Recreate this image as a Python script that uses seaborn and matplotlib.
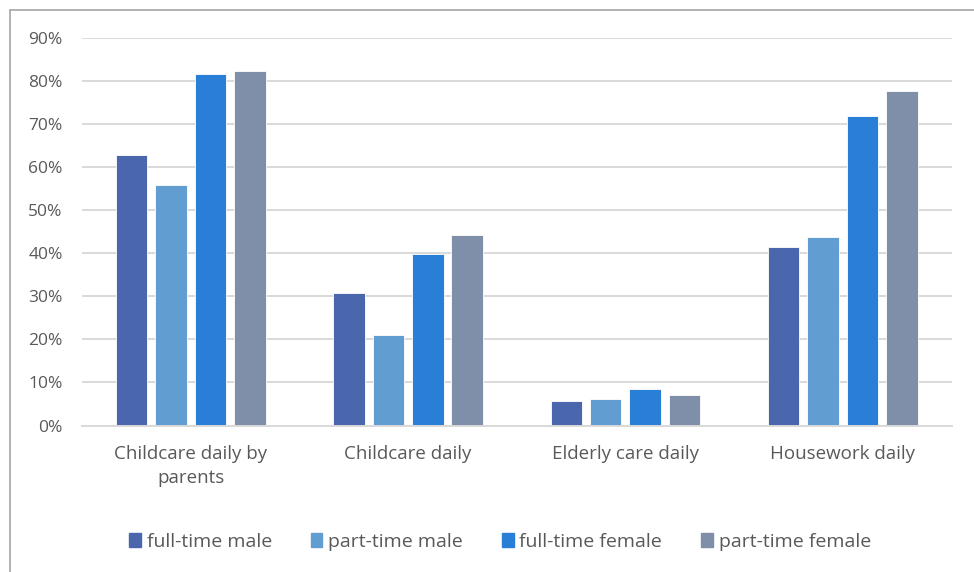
import numpy as np
import pandas as pd
import matplotlib.pyplot as plt
import seaborn as sns
from matplotlib.lines import Line2D

categories = ['Childcare daily by\nparents', 'Childcare daily', 'Elderly care daily', 'Housework daily']
groups = ['full-time male', 'part-time male', 'full-time female', 'part-time female']
ft_male = [62.7, 30.7, 5.6, 41.5]
pt_male = [55.8, 21.0, 6.1, 43.8]
ft_female = [81.5, 39.9, 8.5, 71.8]
pt_female = [82.3, 44.1, 7.1, 77.7]
colors = ['#4A66AC', '#629DD1', '#297FD5', '#7F8FA9']

df = pd.DataFrame({
    'category': categories * 4,
    'group': np.repeat(groups, 4),
    'value': ft_male + pt_male + ft_female + pt_female,
})

sns.set_style('white')
plt.rcParams['font.family'] = ['Open Sans', 'DejaVu Sans']
txt = '#595959'

fig = plt.figure(figsize=(9.74, 5.72), dpi=100)
ax = fig.add_axes([82 / 974, 1 - 425.5 / 572, (951.5 - 82) / 974, (425.5 - 37.7) / 572])

sns.barplot(data=df, x='category', y='value', hue='group', palette=colors, saturation=1,
            width=0.725, gap=0.2, edgecolor='white', linewidth=0.6, ax=ax)

ax.set_ylim(0, 90)
ax.set_xlim(-0.5, 3.5)
ax.set_yticks(range(0, 91, 10))
ax.set_yticklabels([f'{v}%' for v in range(0, 91, 10)])
ax.yaxis.grid(True, color='#D9D9D9', linewidth=1.4)
ax.set_axisbelow(True)
for s in ['top', 'right', 'left']:
    ax.spines[s].set_visible(False)
ax.spines['bottom'].set_color('#D9D9D9')
ax.spines['bottom'].set_linewidth(1.4)
ax.tick_params(axis='y', length=0, pad=14, labelsize=12.5, labelcolor=txt)
ax.tick_params(axis='x', length=0, pad=14, labelsize=13.5, labelcolor=txt)
for lab in ax.get_xticklabels():
    lab.set_linespacing(1.45)
ax.set_xlabel('')
ax.set_ylabel('')

handles = [plt.Rectangle((0, 0), 1, 1, color=c) for c in colors]
ax.legend(handles, groups, loc='center', bbox_to_anchor=(500 / 974, 1 - 542 / 572), bbox_transform=fig.transFigure,
          ncol=4, frameon=False, fontsize=14, labelcolor=txt, handlelength=0.6, handleheight=0.7,
          handletextpad=0.3, columnspacing=2.0)

fig.add_artist(Line2D([10 / 974, 1], [1 - 10 / 572] * 2, color='#A6A6A6', linewidth=1.2))
fig.add_artist(Line2D([10 / 974] * 2, [0, 1 - 10 / 572], color='#A6A6A6', linewidth=1.2))

fig.savefig('out.png', dpi=100)
